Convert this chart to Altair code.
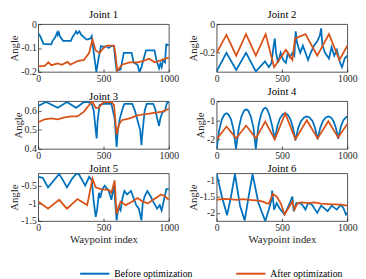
import altair as alt
import pandas as pd

BLUE = "#0072BD"
ORANGE = "#D95319"
FONT = "Liberation Serif"
SERIES = ["Before optimization", "After optimization"]

# ---- Joint 1 ----
j1_bx = [0, 15, 40, 100, 110, 130, 145, 150, 158, 165, 190, 250, 262, 280, 290, 300, 315, 330, 370, 400, 410, 425, 445, 460, 480, 500, 520, 540, 560, 580, 590, 600, 630, 645, 655, 715, 730, 760, 775, 790, 800, 825, 890, 905, 925, 935, 945, 955, 970, 980, 1000]
j1_by = [-0.04, -0.05, -0.083, -0.085, -0.07, -0.055, -0.035, -0.045, -0.035, -0.05, -0.07, -0.07, -0.055, -0.04, -0.03, -0.04, -0.03, -0.045, -0.065, -0.06, -0.05, -0.12, -0.2, -0.15, -0.092, -0.095, -0.092, -0.1, -0.092, -0.092, -0.15, -0.195, -0.19, -0.15, -0.12, -0.12, -0.16, -0.17, -0.2, -0.18, -0.16, -0.11, -0.11, -0.15, -0.185, -0.165, -0.18, -0.15, -0.16, -0.085, -0.088]
j1_ax = [0, 50, 78, 100, 150, 180, 225, 245, 300, 350, 390, 415, 440, 470, 500, 530, 580, 590, 605, 640, 700, 760, 800, 850, 890, 950, 1000]
j1_ay = [-0.177, -0.175, -0.16, -0.172, -0.165, -0.17, -0.158, -0.17, -0.155, -0.15, -0.12, -0.065, -0.11, -0.12, -0.1, -0.09, -0.09, -0.12, -0.195, -0.17, -0.16, -0.16, -0.155, -0.145, -0.16, -0.15, -0.14]

# ---- Joint 2 ----
j2_bx = [0, 75, 150, 225, 300, 370, 400, 420, 435, 445, 455, 470, 490, 510, 530, 545, 560, 580, 595, 605, 615, 640, 660, 680, 700, 720, 745, 770, 790, 800, 810, 830, 860, 880, 900, 920, 945, 960, 980, 1000]
j2_by = [-0.33, -0.2, -0.32, -0.2, -0.33, -0.26, -0.3, -0.27, -0.16, -0.1, -0.2, -0.27, -0.2, -0.25, -0.27, -0.2, -0.23, -0.2, -0.22, -0.05, -0.13, -0.2, -0.15, -0.2, -0.25, -0.2, -0.15, -0.12, -0.08, -0.03, -0.15, -0.2, -0.24, -0.16, -0.22, -0.18, -0.27, -0.3, -0.24, -0.22]
j2_ax = [0, 75, 150, 225, 300, 375, 440, 530, 580, 600, 680, 770, 860, 940, 1000]
j2_ay = [-0.2, -0.075, -0.22, -0.07, -0.22, -0.07, -0.3, -0.18, -0.25, -0.1, -0.07, -0.22, -0.07, -0.25, -0.15]

# ---- Joint 3 ----
j3_bx = [0, 60, 150, 220, 290, 350, 380, 410, 425, 440, 447, 455, 470, 500, 560, 572, 585, 600, 610, 625, 650, 660, 720, 740, 760, 780, 790, 800, 815, 830, 880, 895, 910, 925, 935, 950, 970, 985, 1000]
j3_by = [0.625, 0.645, 0.615, 0.645, 0.615, 0.645, 0.645, 0.635, 0.6, 0.5, 0.455, 0.55, 0.63, 0.635, 0.635, 0.6, 0.56, 0.41, 0.5, 0.56, 0.62, 0.635, 0.635, 0.6, 0.55, 0.5, 0.42, 0.5, 0.6, 0.635, 0.635, 0.61, 0.56, 0.52, 0.56, 0.59, 0.6, 0.64, 0.645]
j3_ax = [0, 50, 100, 150, 200, 250, 300, 350, 390, 415, 440, 460, 500, 560, 580, 600, 620, 640, 700, 760, 800, 850, 900, 950, 1000]
j3_ay = [0.54, 0.555, 0.56, 0.555, 0.565, 0.57, 0.57, 0.595, 0.63, 0.648, 0.615, 0.615, 0.645, 0.645, 0.63, 0.475, 0.53, 0.55, 0.56, 0.575, 0.58, 0.585, 0.59, 0.595, 0.61]

# ---- Joint 4 ----
j4_bx = [0, 20, 40, 60, 75, 90, 110, 130, 148, 170, 190, 210, 226, 242, 262, 282, 300, 320, 340, 358, 372, 386, 405, 425, 445, 465, 485, 505, 525, 545, 565, 585, 603, 625, 645, 670, 690, 710, 735, 755, 773, 793, 813, 835, 855, 875, 895, 915, 930, 950, 970, 990, 1000]
j4_by = [-2.5, -1.5, -0.95, -0.7, -0.64, -0.7, -0.95, -1.5, -2.5, -1.4, -0.8, -0.5, -0.43, -0.5, -0.8, -1.4, -2.5, -1.3, -0.7, -0.42, -0.35, -0.42, -0.75, -1.3, -2.0, -1.3, -0.9, -0.7, -0.64, -0.72, -0.95, -1.4, -2.05, -1.4, -1.05, -0.85, -0.8, -0.85, -1.05, -1.45, -2.0, -1.4, -1.05, -0.85, -0.8, -0.85, -1.05, -1.45, -1.97, -1.35, -1.0, -0.85, -0.8]
j4_ax = [0, 75, 150, 226, 300, 372, 445, 525, 603, 690, 773, 855, 930, 1000]
j4_ay = [-2.0, -1.33, -1.95, -1.28, -1.95, -1.07, -2.0, -0.64, -2.0, -1.0, -1.95, -1.05, -1.9, -1.2]

# ---- Joint 5 ----
j5_bx = [0, 35, 75, 120, 160, 190, 220, 260, 290, 310, 360, 390, 410, 425, 440, 450, 465, 475, 490, 510, 540, 560, 580, 590, 600, 615, 630, 645, 660, 680, 710, 730, 750, 770, 790, 800, 815, 835, 860, 880, 910, 930, 945, 960, 980, 1000]
j5_by = [-0.25, -0.28, -0.55, -0.35, -0.17, -0.35, -0.55, -0.3, -0.17, -0.17, -0.5, -0.25, -0.35, -0.95, -1.38, -1.2, -0.7, -0.85, -0.6, -0.5, -0.65, -0.9, -0.5, -1.0, -1.48, -1.1, -1.2, -0.85, -0.65, -0.75, -0.65, -0.85, -1.05, -1.15, -1.48, -1.0, -0.8, -0.65, -0.8, -0.95, -1.15, -1.05, -1.2, -0.95, -0.6, -0.6]
j5_ax = [0, 75, 160, 220, 300, 375, 415, 440, 480, 540, 560, 585, 600, 630, 670, 720, 760, 800, 840, 880, 940, 970, 1000]
j5_ay = [-0.95, -1.15, -0.9, -1.15, -0.88, -1.05, -0.3, -0.55, -0.6, -0.62, -0.7, -0.35, -1.3, -0.95, -1.05, -0.95, -0.85, -0.95, -1.0, -0.9, -0.75, -0.8, -0.9]

# ---- Joint 6 ----
j6_bx = [0, 40, 80, 110, 140, 180, 215, 245, 275, 320, 372, 400, 420, 425, 440, 460, 480, 520, 560, 580, 590, 610, 650, 680, 700, 730, 770, 800, 850, 880, 920, 950, 970, 990, 1000]
j6_by = [-0.8, -1.5, -2.07, -1.5, -0.82, -1.8, -2.23, -1.5, -0.82, -1.7, -2.25, -1.9, -1.6, -1.32, -1.9, -1.7, -1.85, -2.05, -1.7, -1.5, -1.95, -1.7, -1.72, -1.9, -1.7, -1.75, -2.0, -1.78, -1.95, -1.78, -1.9, -1.75, -1.85, -2.05, -2.0]
j6_ax = [0, 50, 100, 150, 200, 250, 300, 350, 380, 400, 430, 460, 490, 520, 550, 580, 595, 620, 650, 700, 750, 800, 850, 900, 950, 1000]
j6_ay = [-1.6, -1.57, -1.58, -1.6, -1.58, -1.6, -1.62, -1.65, -1.7, -1.72, -1.42, -1.5, -1.7, -2.05, -1.85, -1.65, -1.9, -1.7, -1.68, -1.7, -1.68, -1.72, -1.73, -1.74, -1.75, -1.78]

joints = [
    (j1_bx, j1_by, j1_ax, j1_ay),
    (j2_bx, j2_by, j2_ax, j2_ay),
    (j3_bx, j3_by, j3_ax, j3_ay),
    (j4_bx, j4_by, j4_ax, j4_ay),
    (j5_bx, j5_by, j5_ax, j5_ay),
    (j6_bx, j6_by, j6_ax, j6_ay),
]
y_domains = [[-0.2, 0], [-0.333, 0], [0.4, 0.65], [-2.5, 0], [-1.5, -0.15], [-2.25, -0.79]]
y_ticks = [[-0.2, -0.1, 0], [-0.2, 0], [0.4, 0.5, 0.6], [-2, -1, 0], [-1.5, -1, -0.5], [-2, -1.5, -1]]
x_ticks = [0, 500, 1000]

rows = []
for j, (bx, by, ax_, ay) in enumerate(joints, start=1):
    for x, y in zip(bx, by):
        rows.append({"joint": j, "series": SERIES[0], "x": x, "y": y})
    for x, y in zip(ax_, ay):
        rows.append({"joint": j, "series": SERIES[1], "x": x, "y": y})
df = pd.DataFrame(rows)

W, H = 134, 49
AX_COLOR = "#262626"


def panel(j):
    dom = y_domains[j - 1]
    xs = alt.Scale(domain=[0, 1000], nice=False, zero=False)
    ys = alt.Scale(domain=dom, nice=False, zero=False)
    base = alt.Chart(df).transform_filter(alt.datum.joint == j)
    color = alt.Color(
        "series:N",
        scale=alt.Scale(domain=SERIES, range=[BLUE, ORANGE]),
        legend=alt.Legend(
            orient="none", legendX=42, legendY=240, direction="horizontal",
            title=None, symbolType="stroke", symbolSize=900, symbolStrokeWidth=2,
            labelFont=FONT, labelFontSize=10, labelColor="black",
            columnPadding=40, labelOffset=4, padding=0,
        ),
    )
    xaxis = alt.Axis(values=x_ticks, title="Waypoint index" if j >= 5 else None,
                     ticks=False, domain=False, grid=False, labelPadding=2, labelFlush=False,
                     labelExpr="'' + datum.value", titlePadding=1)
    yaxis = alt.Axis(values=y_ticks[j - 1], title="Angle", ticks=False, domain=False,
                     grid=False, labelPadding=2, labelExpr="'' + datum.value", titlePadding=1)
    blue = base.transform_filter(alt.datum.series == SERIES[0]).mark_line(
        strokeWidth=1.8, clip=True).encode(
        x=alt.X("x:Q", scale=xs, axis=xaxis),
        y=alt.Y("y:Q", scale=ys, axis=yaxis),
        color=color, order="x:Q")
    orange = base.transform_filter(alt.datum.series == SERIES[1]).mark_line(
        strokeWidth=1.8, clip=True).encode(
        x=alt.X("x:Q", scale=xs, axis=None),
        y=alt.Y("y:Q", scale=ys, axis=None),
        color=color, order="x:Q")
    tick_layer = base.mark_line(strokeOpacity=0).encode(
        x=alt.X("x:Q", scale=xs, axis=alt.Axis(values=x_ticks, labels=False, domain=False,
                                               ticks=True, tickSize=3, offset=-3, title=None,
                                               grid=False, orient="bottom",
                                               tickColor=AX_COLOR, tickWidth=0.8)),
        y=alt.Y("y:Q", scale=ys, axis=alt.Axis(values=y_ticks[j - 1], labels=False, domain=False,
                                               ticks=True, tickSize=3, offset=-3, title=None,
                                               grid=False, orient="left",
                                               tickColor=AX_COLOR, tickWidth=0.8)),
    )
    return alt.layer(blue, orange, tick_layer).resolve_axis(
        x="independent", y="independent").properties(
        width=W, height=H,
        title=alt.TitleParams(f"Joint {j}", font=FONT, fontSize=11, fontWeight="normal",
                              color="black", offset=-1))


chart = alt.concat(*[panel(j) for j in range(1, 7)], columns=2, align="each",
                   spacing={"row": 1, "column": 7}).properties(
    padding={"top": -3, "left": 0, "right": 0, "bottom": 0}).configure_view(
    stroke=AX_COLOR, strokeWidth=0.8).configure_axis(
    labelFont=FONT, titleFont=FONT, labelFontSize=10, titleFontSize=11,
    labelColor=AX_COLOR, titleColor=AX_COLOR, titleFontWeight="normal")

chart.save("out.html", embed_options={"renderer": "svg", "actions": False})
